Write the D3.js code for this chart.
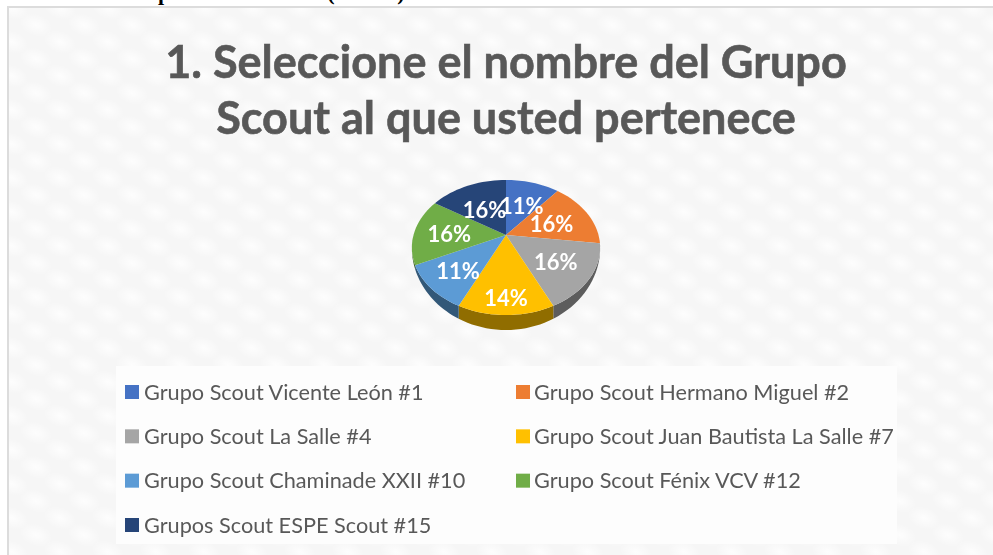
<!DOCTYPE html>
<html>
<head>
<meta charset="utf-8">
<script src="https://cdn.jsdelivr.net/npm/d3@7"></script>
<style>
	html, body { margin: 0; padding: 0; background: #fff; }
	svg { display: block; }
</style>
</head>
<body>
<script>
var titleLines = ["1. Seleccione el nombre del Grupo", "Scout al que usted pertenece"];
var groups = [
	"Grupo Scout Vicente León #1",
	"Grupo Scout Hermano Miguel #2",
	"Grupo Scout La Salle #4",
	"Grupo Scout Juan Bautista La Salle #7",
	"Grupo Scout Chaminade XXII #10",
	"Grupo Scout Fénix VCV #12",
	"Grupos Scout ESPE Scout #15"
];
var percents = [11, 16, 16, 14, 11, 16, 16];
var colors = ["#4472c4", "#ed7d31", "#a5a5a5", "#ffc000", "#5b9bd5", "#70ad47", "#264478"];

var width = 993, height = 555;
var svg = d3.select("body").append("svg")
	.attr("width", width)
	.attr("height", height);

var defs = svg.append("defs");

// weave behind the chart
var glow = defs.append("radialGradient").attr("id", "glow");
glow.append("stop").attr("offset", "0%").attr("stop-color", "#fff").attr("stop-opacity", 0.8);
glow.append("stop").attr("offset", "100%").attr("stop-color", "#fff").attr("stop-opacity", 0);

var tile = defs.append("pattern")
	.attr("id", "weave")
	.attr("patternUnits", "userSpaceOnUse")
	.attr("width", 48)
	.attr("height", 34);
tile.append("rect").attr("width", 48).attr("height", 34).attr("fill", "#f6f6f6");
[[12, 8], [36, 25], [-12, 25], [60, 8], [36, -9], [12, 42]].forEach(function(p) {
	tile.append("ellipse")
		.attr("cx", p[0]).attr("cy", p[1])
		.attr("rx", 17).attr("ry", 11)
		.attr("fill", "url(#glow)")
		.attr("transform", "rotate(20 " + p[0] + " " + p[1] + ")");
});

defs.append("filter").attr("id", "soft")
	.attr("x", "-5%").attr("y", "-5%").attr("width", "110%").attr("height", "110%")
	.append("feGaussianBlur").attr("stdDeviation", 0.55);

// tail of the line of text above the chart, cut off by the page edge
var cut = svg.append("g")
	.attr("font-family", "Liberation Serif")
	.attr("font-weight", "bold")
	.attr("font-size", 22)
	.attr("fill", "#000");
[["p", 164], ["(", 331], [")", 401]].forEach(function(d) {
	cut.append("text").attr("x", d[1]).attr("y", 0).attr("text-anchor", "middle").text(d[0]);
});

// chart frame, open on the right
svg.append("rect").attr("x", 8).attr("y", 7).attr("width", width).attr("height", height)
	.attr("fill", "url(#weave)")
	.attr("stroke", "#dcdcdc")
	.attr("stroke-width", 2);

var chart = svg.append("g").attr("filter", "url(#soft)");

chart.selectAll("text.title")
	.data(titleLines)
	.enter().append("text")
	.attr("class", "title")
	.attr("x", 506)
	.attr("y", function(d, i) { return 78 + i * 56; })
	.attr("text-anchor", "middle")
	.attr("font-family", "Lato")
	.attr("font-weight", "bold")
	.attr("font-size", 45)
	.attr("fill", "#595959")
	.attr("stroke", "#595959")
	.attr("stroke-width", 0.6)
	.text(function(d) { return d; });

// pie laid flat: unit disc pushed through a small perspective
var cx = 506, cy = 235, rx = 92.5, ry = 65.2, tilt = 0.185, depth = 15;

function project(a, r) {
	var u = Math.sin(a) * r, v = -Math.cos(a) * r, w = 1 - tilt * v;
	return [cx + rx * u / w, cy + ry * v / w];
}

var slices = d3.pie().sort(null)(percents);
var line = d3.line();

function angles(d) {
	return d3.range(0, 1.0001, 0.05).map(function(t) {
		return d.startAngle + (d.endAngle - d.startAngle) * t;
	});
}

function rimDrop(a) {
	var p = project(a, 1);
	return [p[0], p[1] + depth * Math.pow(Math.max(0, -Math.cos(a)), 1.5)];
}

chart.selectAll("path.side")
	.data(slices)
	.enter().append("path")
	.attr("class", "side")
	.attr("d", function(d) {
		var as = angles(d);
		return line(as.map(function(a) { return project(a, 1); })
			.concat(as.slice().reverse().map(rimDrop))) + "Z";
	})
	.attr("fill", function(d, i) { return d3.rgb(colors[i]).darker(1.6); });

chart.selectAll("path.top")
	.data(slices)
	.enter().append("path")
	.attr("class", "top")
	.attr("d", function(d) {
		return line([[cx, cy]].concat(angles(d).map(function(a) { return project(a, 1); }))) + "Z";
	})
	.attr("fill", function(d, i) { return colors[i]; });

// how far out along its slice each label sits
var labelReach = [0.55, 0.55, 0.62, 0.8, 0.67, 0.62, 0.52];

chart.selectAll("text.pct")
	.data(slices)
	.enter().append("text")
	.attr("class", "pct")
	.attr("transform", function(d, i) {
		return "translate(" + project((d.startAngle + d.endAngle) / 2, labelReach[i]) + ")";
	})
	.attr("dy", "0.45em")
	.attr("text-anchor", "middle")
	.attr("font-family", "Lato")
	.attr("font-weight", "bold")
	.attr("font-size", 22)
	.attr("fill", "#fff")
	.text(function(d) { return d.value + "%"; });

// legend
var legendX = d3.scalePoint().domain([0, 1]).range([125, 516]);
var legendY = d3.scalePoint().domain([0, 1, 2, 3]).range([392, 525]);

chart.append("rect")
	.attr("x", 116).attr("y", 366)
	.attr("width", 781).attr("height", 178)
	.attr("fill", "#fdfdfd");

var entries = chart.selectAll("g.entry")
	.data(groups)
	.enter().append("g")
	.attr("class", "entry")
	.attr("transform", function(d, i) {
		return "translate(" + legendX(i % 2) + "," + legendY(Math.floor(i / 2)) + ")";
	});

entries.append("rect")
	.attr("y", -7)
	.attr("width", 14)
	.attr("height", 14)
	.attr("fill", function(d, i) { return colors[i]; });

entries.append("text")
	.attr("x", function(d, i) { return i % 2 ? 18 : 19; })
	.attr("dy", "0.35em")
	.attr("font-family", "Lato")
	.attr("font-size", 21.7)
	.attr("fill", "#595959")
	.text(function(d) { return d; });
</script>
</body>
</html>
